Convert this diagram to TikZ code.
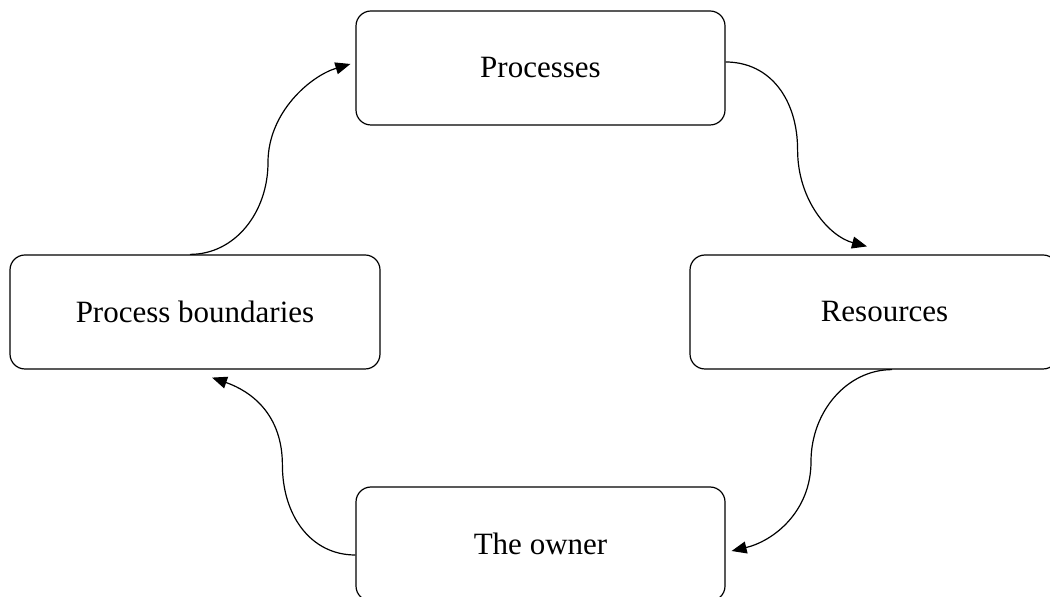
\documentclass[tikz,border=0pt]{standalone}
\usepackage{fontspec}
\setmainfont{Liberation Serif}
\usetikzlibrary{arrows.meta}
\begin{document}
\begin{tikzpicture}[x=1pt,y=1pt,
  stage/.style={draw, line width=1.2pt, rounded corners=15pt,
    minimum height=114pt, inner sep=0pt,
    font=\fontsize{31}{36}\selectfont},
  flow/.style={line width=1.2pt,
    -{Triangle[length=15pt,width=12pt]}}]
  \useasboundingbox (0,0) rectangle (1050,597);
  \clip (0,0) rectangle (1050,597);

  % the four stages of the cycle
  \node[stage, minimum width=369pt] (proc)  at (540.5,529) {Processes};
  \node[stage, minimum width=370pt] (bound) at (195,285)   {Process boundaries};
  \node[stage, minimum width=368pt] (res)   at (874,285)   {\hspace*{21pt}Resources};
  \node[stage, minimum width=369pt] (own)   at (540.5,53)  {The owner};

  % clockwise S-shaped links between the stages
  \draw[flow] ([yshift=6pt]proc.east)
      .. controls +(45,0) and +(0,50) .. ++(72,-88)
      .. controls +(0,-50) and +(-38,10) .. ([shift={(-7pt,8pt)}]res.north);
  \draw[flow] ([xshift=18pt]res.south)
      .. controls +(-45,0) and +(0,50) .. ++(-81,-92)
      .. controls +(0,-50) and +(42,10) .. ([shift={(6pt,-7pt)}]own.east);
  \draw[flow] ([yshift=-11pt]own.west)
      .. controls +(-45,0) and +(0,-50) .. ++(-73,90)
      .. controls +(0,50) and +(40,-14) .. ([shift={(17pt,-8pt)}]bound.south);
  \draw[flow] ([xshift=-5pt]bound.north)
      .. controls +(45,0) and +(0,-50) .. ++(78,92)
      .. controls +(0,50) and +(-40,-12) .. ([shift={(-5pt,4pt)}]proc.west);
\end{tikzpicture}
\end{document}
